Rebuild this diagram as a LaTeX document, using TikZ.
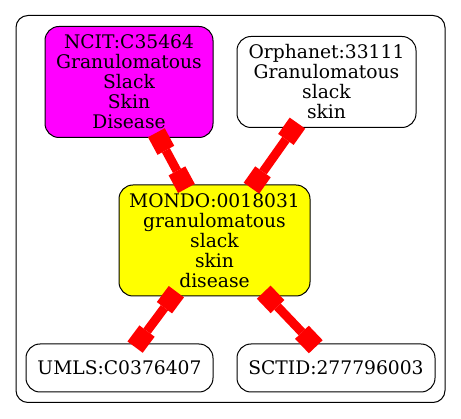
\documentclass[tikz,border=0pt]{standalone}
\usepackage{fontspec}
\setmainfont{DejaVu Serif}
\usetikzlibrary{arrows.meta}
\definecolor{gvmagenta}{RGB}{255,0,255}
\definecolor{gvyellow}{RGB}{255,255,0}
\definecolor{gvred}{RGB}{255,0,0}
\begin{document}
\begin{tikzpicture}[x=1pt,y=-1pt,
  termbox/.style={draw=black,line width=1pt,rounded corners=14pt,align=center,inner sep=0pt,
    font=\fontsize{18.7}{20}\selectfont},
  clusterbox/.style={draw=black,line width=1pt,rounded corners=12pt,inner sep=0pt},
  boxtip/.tip={Square[length=20pt,width=19pt,line width=0pt]},
  xedge/.style={draw=gvred,line width=9pt,{boxtip}-{boxtip},shorten <=-6pt,shorten >=-4.5pt}]
\useasboundingbox[fill=white] (0,0) rectangle (461,419);
\node[clusterbox,minimum width=429pt,minimum height=387pt] (cluster) at (230.5,209) {};
\node[termbox,fill=gvmagenta,minimum width=168pt,minimum height=111pt] (ncit) at (129,82)
  {NCIT:C35464\\Granulomatous\\Slack\\Skin\\Disease};
\node[termbox,fill=white,minimum width=179pt,minimum height=91pt] (orpha) at (326.5,82)
  {Orphanet:33111\\Granulomatous\\slack\\skin};
\node[termbox,fill=gvyellow,minimum width=191pt,minimum height=111pt] (mondo) at (214.5,240.5)
  {MONDO:0018031\\granulomatous\\slack\\skin\\disease};
\node[termbox,fill=white,minimum width=187pt,minimum height=48pt] (umls) at (119.5,368)
  {UMLS:C0376407};
\node[termbox,fill=white,minimum width=198pt,minimum height=48pt] (sctid) at (336,368)
  {SCTID:277796003};
\draw[xedge] (ncit) -- (mondo);
\draw[xedge] (orpha) -- (mondo);
\draw[xedge] (mondo) -- (umls);
\draw[xedge] (mondo) -- (sctid);
\end{tikzpicture}
\end{document}
